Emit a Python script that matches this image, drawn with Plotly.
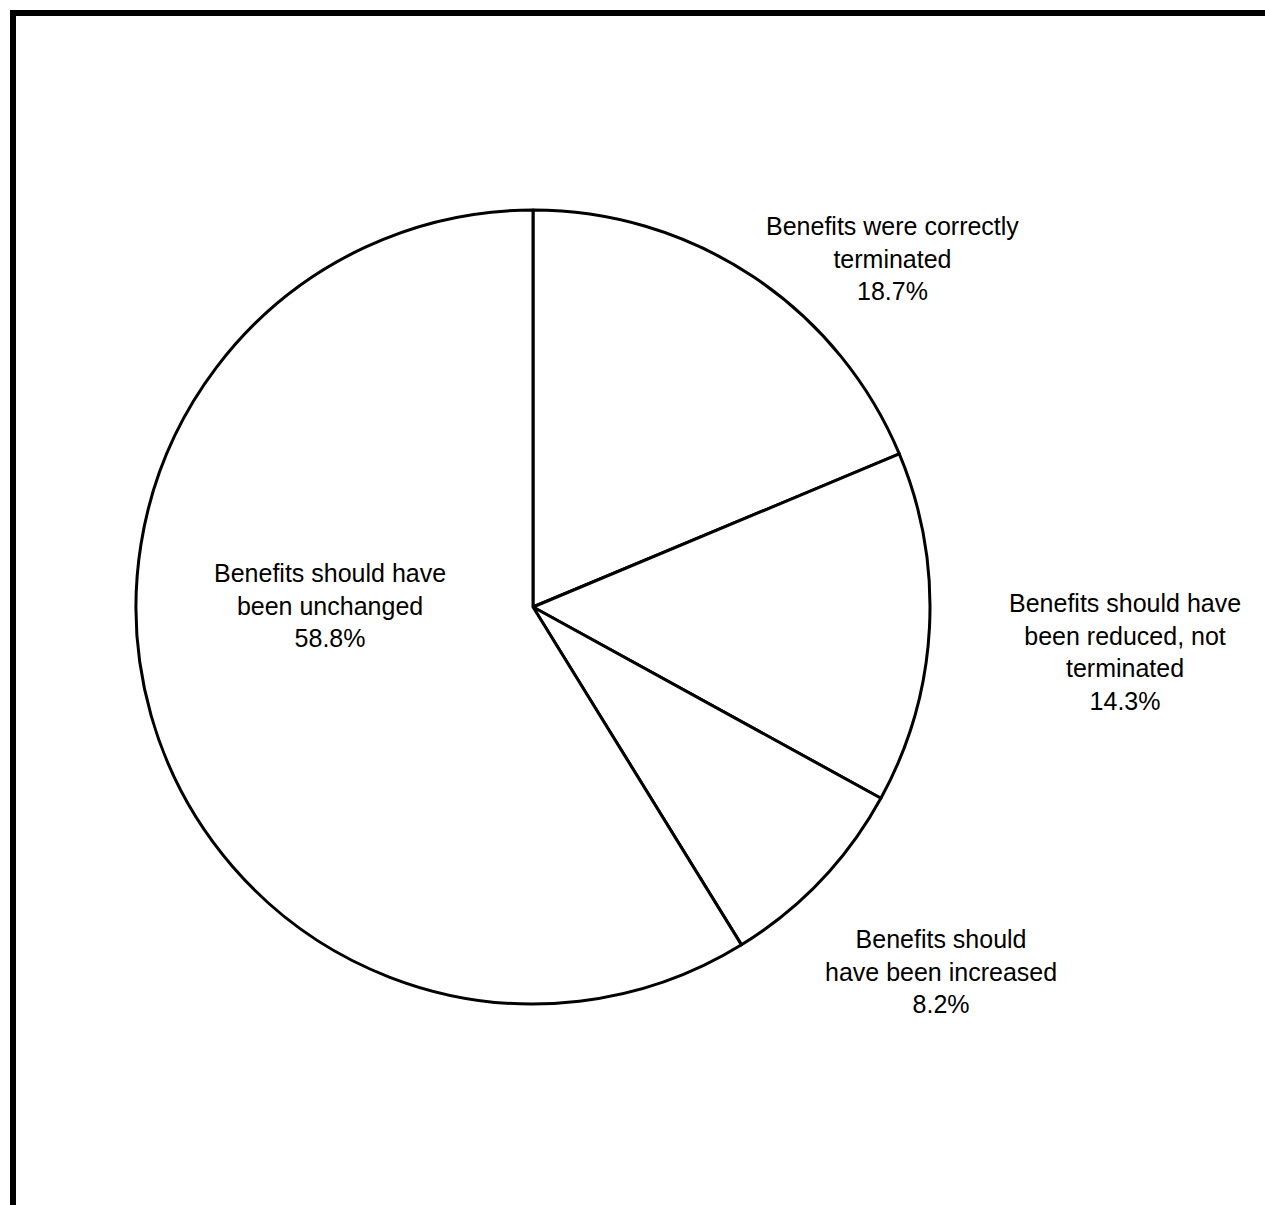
import plotly.graph_objects as go

# ---- data ----
categories = [
    "Benefits were correctly<br>terminated",
    "Benefits should have<br>been reduced, not<br>terminated",
    "Benefits should<br>have been increased",
    "Benefits should have<br>been unchanged",
]
shares = [18.7, 14.3, 8.2, 58.8]

W, H = 1265, 1205
cx, cy, r = 533, 607, 397  # pie centre / radius in pixels (layout)

fig = go.Figure(go.Pie(
    labels=categories,
    values=shares,
    sort=False,
    direction="clockwise",
    rotation=0,
    textinfo="none",
    textposition="inside",
    hoverinfo="label+percent",
    marker=dict(colors=["white"] * len(shares), line=dict(color="black", width=3)),
    domain=dict(x=[(cx - r) / W, (cx + r) / W], y=[1 - (cy + r) / H, 1 - (cy - r) / H]),
    showlegend=False,
))

# label positions (pixel centres) — layout only
label_pos = [(892, 258), (1125, 652), (941, 971), (330, 605)]
for (px, py), cat, v in zip(label_pos, categories, shares):
    fig.add_annotation(
        x=px / W, y=1 - py / H, xref="paper", yref="paper",
        xanchor="center", yanchor="middle", showarrow=False,
        text=f"{cat}<br>{v:.1f}%", align="center",
        font=dict(family="Liberation Sans, Arial, sans-serif", size=25, color="black"),
    )

# frame lines (top and left)
fig.add_shape(type="line", xref="paper", yref="paper",
              x0=10 / W, x1=1.0, y0=1 - 13 / H, y1=1 - 13 / H,
              line=dict(color="black", width=6))
fig.add_shape(type="line", xref="paper", yref="paper",
              x0=13 / W, x1=13 / W, y0=0, y1=1 - 10 / H,
              line=dict(color="black", width=6))

fig.update_layout(
    width=W, height=H,
    margin=dict(l=0, r=0, t=0, b=0),
    paper_bgcolor="white", plot_bgcolor="white",
)

fig.write_html("out.html")
